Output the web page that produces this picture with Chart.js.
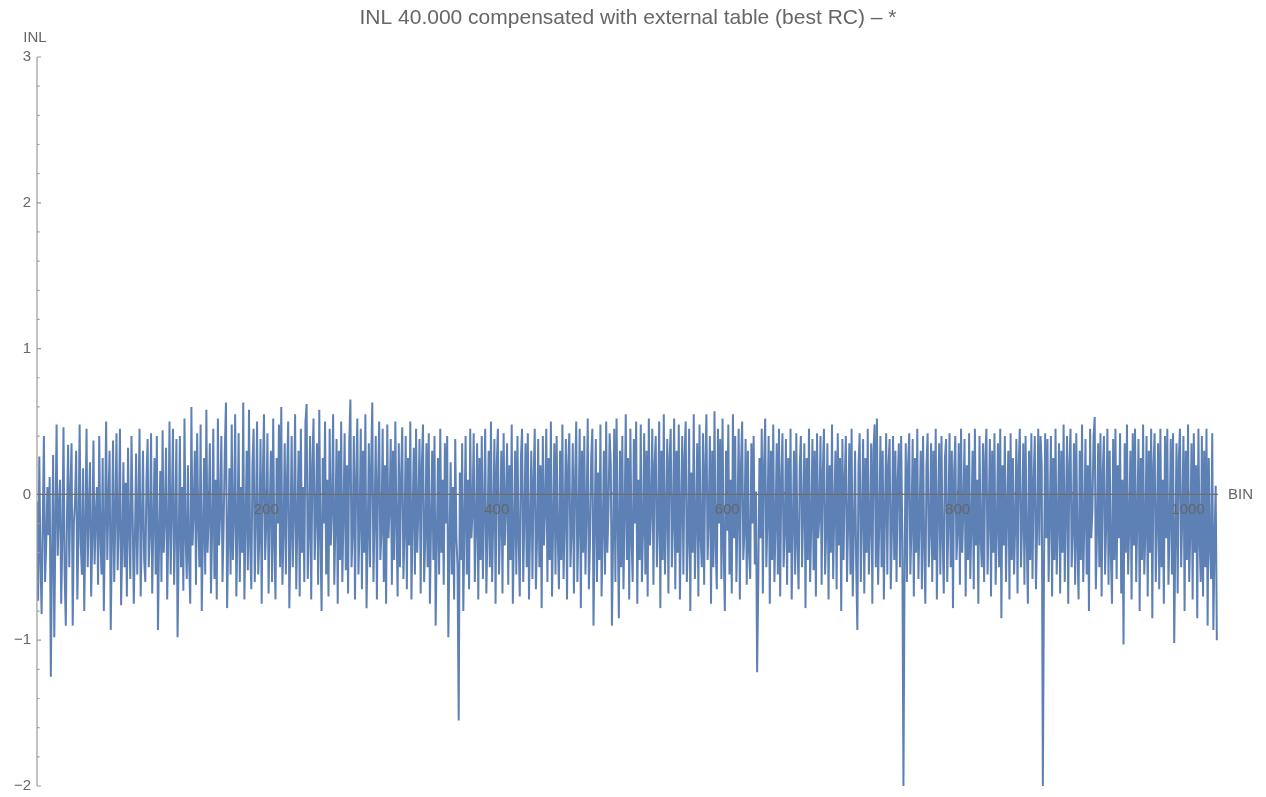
<!DOCTYPE html>
<html>
<head>
<meta charset="utf-8">
<script src="https://cdn.jsdelivr.net/npm/chart.js@4.4.0/dist/chart.umd.min.js"></script>
<style>
  body { margin: 0; background: #fff; }
  #wrap { width: 1266px; height: 797px; position: relative; }
</style>
</head>
<body>
<div id="wrap"><canvas id="chart"></canvas></div>
<script>
// INL per bin (bins 1..1025)
let inl = [
  -0.05,-0.73,0.26,-0.45,-0.82,-0.2,0.4,-0.6,-0.35,0.05,
  -0.28,0.12,-1.25,-0.45,0.27,-0.98,-0.2,0.48,-0.42,-0.1,
  0.1,-0.75,-0.3,0.46,-0.55,-0.9,-0.15,0.34,-0.5,0.02,
  0.35,-0.9,-0.2,-0.05,0.3,-0.72,-0.28,0.48,-0.35,-0.55,
  0.18,-0.8,-0.22,0.45,-0.5,-0.1,0.22,-0.7,-0.3,0.37,
  -0.48,-0.15,0.05,-0.62,0.4,-0.3,-0.55,0.25,-0.8,-0.2,
  0.5,-0.45,-0.05,0.3,-0.93,-0.3,0.37,-0.6,-0.15,0.42,
  -0.52,-0.2,0.45,-0.76,-0.35,0.22,-0.5,0.08,-0.7,0.32,
  -0.25,-0.58,0.4,-0.12,-0.75,-0.3,0.28,-0.55,-0.1,0.45,
  -0.7,-0.22,0.3,-0.45,-0.6,0.1,0.38,-0.5,-0.25,0.42,
  -0.68,-0.2,0.25,-0.55,0.4,-0.93,-0.3,0.16,-0.6,0.44,
  -0.4,-0.15,0.32,-0.72,-0.25,0.5,-0.55,-0.1,0.45,-0.62,
  -0.2,0.38,-0.98,-0.35,0.4,-0.5,0.05,-0.66,0.52,-0.3,
  -0.58,0.2,-0.45,-0.75,0.6,-0.35,-0.1,0.3,-0.62,0.42,
  -0.2,-0.5,0.48,-0.8,-0.3,0.25,-0.55,0.58,-0.4,-0.15,
  0.35,-0.68,-0.25,0.45,-0.58,0.1,-0.72,0.52,-0.35,-0.12,
  0.4,-0.6,-0.2,0.3,0.63,-0.78,-0.3,0.18,-0.55,0.48,
  -0.45,-0.15,0.55,-0.7,-0.25,0.42,-0.6,0.05,-0.4,0.63,
  -0.72,-0.2,0.3,-0.52,0.58,-0.35,-0.65,0.2,0.45,-0.6,
  -0.18,0.5,-0.55,-0.3,0.38,-0.75,0.12,0.55,-0.45,-0.2,
  0.42,-0.68,-0.1,0.3,-0.6,0.52,-0.35,-0.72,0.25,-0.2,
  0.48,-0.5,0.6,-0.62,-0.25,0.35,-0.55,0.1,0.5,-0.78,
  -0.3,0.4,-0.5,-0.12,0.55,-0.65,-0.2,0.3,-0.7,0.45,
  -0.4,0.05,-0.6,0.5,0.62,-0.58,-0.25,0.4,-0.72,0.2,
  0.52,-0.45,-0.15,0.35,-0.62,0.58,-0.3,-0.8,0.25,-0.2,
  0.5,-0.55,0.1,-0.7,0.45,-0.35,-0.1,0.55,-0.62,-0.2,
  0.38,-0.75,0.3,-0.45,0.5,-0.6,-0.15,0.42,-0.52,0.2,
  -0.68,0.35,0.65,-0.5,-0.25,0.4,-0.72,0.1,0.52,-0.55,
  -0.2,0.45,-0.65,0.3,-0.4,0.55,-0.78,-0.3,0.35,-0.5,
  0.2,0.63,-0.6,-0.15,0.4,-0.72,0.08,0.5,-0.45,-0.25,
  0.45,-0.6,0.2,-0.75,0.48,-0.3,-0.1,0.38,-0.62,0.3,
  -0.45,0.5,-0.2,-0.7,0.35,-0.5,0.12,0.46,-0.58,-0.25,
  0.4,-0.65,0.25,-0.35,0.5,-0.72,-0.15,0.32,-0.55,0.45,
  -0.4,-0.1,0.38,-0.68,0.2,0.48,-0.6,-0.3,0.35,-0.5,
  0.42,-0.75,-0.2,0.3,-0.45,0.4,-0.9,-0.3,0.25,-0.55,
  0.45,-0.4,0.1,-0.62,0.35,-0.2,0.4,-0.98,-0.35,0.22,
  -0.55,0.05,-0.72,0.38,-0.3,-0.5,-1.55,0.15,-0.45,0.35,
  -0.8,-0.2,0.4,-0.55,0.1,-0.65,0.45,-0.3,-0.12,0.42,
  -0.6,-0.2,0.35,-0.72,0.25,-0.45,0.4,-0.58,-0.1,0.45,
  -0.68,-0.25,0.3,-0.5,0.5,-0.6,-0.15,0.38,-0.75,0.2,
  0.45,-0.55,-0.2,0.3,-0.68,0.42,-0.35,-0.08,0.35,-0.62,
  0.2,-0.45,0.48,-0.75,-0.25,0.3,-0.55,0.4,-0.3,-0.7,
  0.25,0.45,-0.6,-0.15,0.35,-0.5,0.42,-0.72,-0.2,0.3,
  -0.58,0.1,0.45,-0.65,-0.3,0.38,-0.5,0.2,-0.78,0.4,
  -0.35,-0.1,0.45,-0.6,0.25,-0.45,0.5,-0.7,-0.2,0.35,
  -0.55,0.4,-0.3,-0.65,0.3,-0.45,0.48,-0.58,-0.15,0.38,
  -0.72,0.2,0.42,-0.5,-0.25,0.35,-0.68,0.1,0.5,-0.6,
  -0.2,0.45,-0.78,0.3,-0.4,0.4,-0.55,-0.1,0.52,-0.65,
  -0.3,0.25,0.45,-0.9,-0.2,0.38,-0.6,0.15,-0.45,0.48,
  -0.7,-0.25,0.3,-0.55,0.5,-0.4,-0.1,0.42,0.2,-0.9,
  -0.3,0.45,-0.6,0.52,-0.2,-0.85,0.3,-0.5,0.4,-0.65,
  -0.15,0.55,-0.45,0.25,-0.72,0.45,-0.3,-0.6,0.38,-0.2,
  0.5,-0.75,0.1,-0.45,0.48,-0.6,-0.25,0.42,-0.55,0.3,
  -0.7,0.52,-0.35,-0.1,0.45,-0.62,0.2,0.4,-0.5,-0.2,
  0.5,-0.78,0.3,-0.45,0.55,-0.55,-0.15,0.38,-0.68,0.25,
  0.45,-0.5,-0.2,0.52,-0.65,0.3,-0.4,0.48,-0.72,-0.1,
  0.4,-0.55,0.25,0.5,-0.6,-0.3,0.45,-0.8,0.15,-0.4,
  0.55,-0.58,-0.2,0.35,-0.7,0.48,-0.3,-0.5,0.42,-0.62,
  0.2,0.55,-0.45,-0.15,0.4,-0.75,0.3,-0.5,0.57,-0.35,
  -0.65,0.45,-0.2,0.38,-0.58,0.52,-0.4,-0.8,0.3,-0.25,
  0.48,-0.55,0.1,-0.68,0.55,-0.3,0.4,-0.6,-0.15,0.45,
  -0.72,0.2,0.5,-0.45,-0.25,0.38,-0.62,0.3,-0.4,-0.58,
  0.35,-0.2,0.4,-0.48,0.02,-1.22,-0.6,0.25,-0.3,0.45,
  -0.68,0.2,0.52,-0.5,-0.15,0.4,-0.75,0.3,-0.45,0.48,
  -0.6,-0.2,0.35,-0.55,0.45,-0.7,0.1,0.42,-0.5,-0.25,
  0.38,-0.62,0.25,-0.4,0.45,-0.72,-0.2,0.3,-0.55,0.42,
  -0.35,-0.65,0.2,0.4,-0.5,-0.1,0.35,-0.78,0.25,-0.45,
  0.45,-0.6,-0.2,0.38,-0.52,0.3,-0.7,0.42,-0.3,-0.15,
  0.4,-0.62,0.15,0.45,-0.55,-0.25,0.35,-0.72,0.2,-0.4,
  0.48,-0.58,-0.1,0.3,-0.65,0.42,-0.35,0.25,-0.8,0.38,
  -0.45,0.1,0.4,-0.6,-0.2,0.35,-0.55,0.45,-0.7,-0.25,
  0.3,-0.5,-0.93,0.2,0.42,-0.6,-0.15,0.38,-0.68,0.25,
  -0.4,0.45,-0.55,-0.2,0.35,-0.75,0.3,0.48,-0.5,0.52,
  -0.62,-0.2,0.4,-0.5,0.3,-0.72,-0.1,0.42,-0.55,0.2,
  0.38,-0.65,-0.25,0.4,-0.45,0.3,-0.6,0.1,0.35,-0.5,
  0.4,-0.3,-2.0,-0.45,0.35,-0.6,0.2,0.42,-0.55,-0.2,
  0.38,-0.7,0.25,-0.4,0.45,-0.58,-0.15,0.3,-0.65,0.4,
  -0.35,-0.75,0.2,0.42,-0.5,-0.25,0.35,-0.6,0.3,-0.45,
  0.45,-0.72,-0.1,0.35,-0.55,0.4,-0.3,-0.68,0.25,0.38,
  -0.6,-0.2,0.42,-0.5,0.3,-0.78,0.15,0.4,-0.45,-0.25,
  0.35,-0.62,0.45,-0.4,-0.1,0.38,-0.7,0.2,-0.45,0.42,
  -0.58,-0.2,0.3,-0.65,0.45,-0.35,0.1,-0.75,0.4,-0.3,
  -0.5,0.35,-0.6,0.25,0.45,-0.55,-0.15,0.38,-0.7,0.3,
  -0.4,0.42,-0.62,-0.25,0.35,-0.5,0.45,-0.85,0.2,-0.35,
  0.4,-0.6,-0.1,0.3,-0.72,0.42,-0.45,0.25,-0.55,-0.2,
  0.38,-0.68,0.2,0.45,-0.5,-0.2,0.35,-0.62,0.4,-0.3,
  -0.75,0.3,-0.45,0.42,-0.58,0.1,0.4,-0.65,-0.25,0.45,
  -0.35,0.4,0.2,-2.0,-0.5,0.42,-0.3,0.38,-0.6,-0.15,
  0.4,-0.7,0.25,-0.45,0.45,-0.55,-0.2,0.35,-0.68,0.3,
  -0.4,0.48,-0.6,-0.1,0.4,-0.75,0.2,0.45,-0.5,-0.25,
  0.35,-0.62,0.42,-0.35,-0.72,0.3,-0.45,0.48,-0.6,-0.2,
  0.38,-0.55,0.2,-0.8,0.45,-0.3,-0.1,0.4,0.53,-0.65,
  -0.25,0.35,-0.5,0.42,-0.7,0.15,0.4,-0.55,-0.2,0.45,
  -0.62,0.3,-0.4,-0.75,0.38,-0.45,0.45,-0.58,0.2,-0.3,
  0.42,-0.68,0.1,-1.03,0.35,-0.4,0.48,-0.55,-0.2,0.3,
  -0.72,0.42,-0.35,0.45,-0.6,-0.15,0.38,-0.8,0.25,-0.45,
  0.48,-0.55,-0.25,0.4,-0.7,0.3,-0.4,0.45,-0.85,0.2,
  0.42,-0.6,-0.2,0.35,-0.65,0.45,-0.5,0.1,-0.75,0.4,
  -0.3,0.45,-0.62,-0.2,0.38,-0.55,0.42,-1.02,-0.3,0.35,
  -0.68,0.25,0.45,-0.5,-0.15,0.4,-0.8,0.3,-0.45,0.48,
  -0.6,-0.25,0.35,-0.72,0.42,-0.4,0.2,-0.85,0.45,-0.3,
  -0.6,0.4,-0.7,0.3,-0.5,0.45,-0.9,0.25,-0.35,-0.58,
  0.42,-0.93,-0.3,0.06,-1.0
];
let xTicks = [200, 400, 600, 800, 1000];
let yTicks = [-2, -1, 0, 1, 2, 3];
let titleText = 'INL 40.000 compensated with external table (best RC) \u2013 *';

let fontFam = '"Liberation Sans", Arial, sans-serif';
let grey = '#666666';
let minus = v => String(v).replace('-', '\u2212');

// axes, tick labels and titles drawn on top of the line, Mathematica style
let axesPlugin = {
  id: 'axesPlugin',
  afterDatasetsDraw(ch) {
    let c = ch.ctx, xs = ch.scales.x, ys = ch.scales.y, a = ch.chartArea;
    let y0 = ys.getPixelForValue(0);
    c.save();
    c.lineWidth = 1.2;
    c.strokeStyle = '#9c9c9c';
    c.beginPath();
    c.moveTo(a.left, a.top); c.lineTo(a.left, a.bottom);
    for (let v = -2; v <= 3.001; v += 0.2) {
      let p = ys.getPixelForValue(v);
      let major = Math.abs(v - Math.round(v)) < 1e-6;
      c.moveTo(a.left, p); c.lineTo(a.left + (major ? 4 : 2.5), p);
    }
    c.stroke();
    c.strokeStyle = '#6e6e6e';
    c.beginPath();
    c.moveTo(a.left, y0); c.lineTo(a.right, y0);
    for (let v = 50; v <= 1000; v += 50) {
      let p = xs.getPixelForValue(v);
      c.moveTo(p, y0); c.lineTo(p, y0 - (v % 200 === 0 ? 4 : 2.5));
    }
    c.stroke();
    c.fillStyle = grey;
    c.font = '15px ' + fontFam;
    c.textBaseline = 'middle';
    c.textAlign = 'center';
    xTicks.forEach(v => c.fillText(String(v), xs.getPixelForValue(v), y0 + 15));
    c.fillText('INL', a.left - 2, 38);
    c.textAlign = 'right';
    yTicks.forEach(v => c.fillText(minus(v), a.left - 6, ys.getPixelForValue(v)));
    c.textAlign = 'left';
    c.fillText('BIN', a.right + 10, y0);
    c.font = '21px ' + fontFam;
    c.textAlign = 'center';
    c.fillText(titleText, 628, 18);
    c.restore();
  }
};

let chart = new Chart(document.getElementById('chart'), {
  type: 'line',
  data: {
    datasets: [{
      data: inl.map((v, i) => ({ x: i + 1, y: v })),
      borderColor: '#5E81B5',
      borderWidth: 2,
      pointRadius: 0,
      tension: 0,
      fill: false
    }]
  },
  options: {
    responsive: true,
    maintainAspectRatio: false,
    animation: false,
    layout: { padding: { left: 0, right: 48, top: 57, bottom: 11 } },
    plugins: { legend: { display: false }, tooltip: { enabled: false }, title: { display: false } },
    scales: {
      x: {
        type: 'linear',
        position: { y: 0 },
        min: 1, max: 1026,
        grid: { display: false, drawTicks: false },
        border: { display: false },
        afterBuildTicks: s => { s.ticks = xTicks.map(v => ({ value: v })); },
        afterFit: s => { s.height = 0; },
        ticks: { display: false }
      },
      y: {
        type: 'linear',
        min: -2, max: 3,
        grid: { display: false, drawTicks: false },
        border: { display: false },
        afterBuildTicks: s => { s.ticks = yTicks.map(v => ({ value: v })); },
        afterFit: s => { s.width = 37; },
        ticks: { display: false }
      }
    }
  },
  plugins: [axesPlugin]
});
</script>
</body>
</html>
